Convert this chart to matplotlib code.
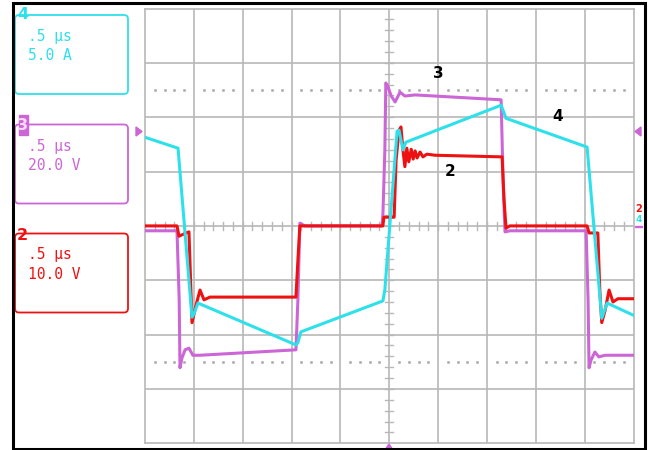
import matplotlib.pyplot as plt
from matplotlib.patches import FancyBboxPatch, Rectangle, Polygon

# Kanäle: Zeit und Pegel in Bildschirm-Teilungen (10 x 8 div)
ch2_x = [0.00, 0.655, 0.696, 0.839, 0.90, 0.962, 1.044, 1.126, 1.208, 1.33, 3.09, 3.13, 3.17,
         4.87, 4.89, 5.10, 5.14, 5.20, 5.24, 5.28, 5.32, 5.36, 5.40, 5.45, 5.49, 5.53, 5.57,
         5.63, 5.69, 5.77, 5.94, 7.31, 7.35, 7.39, 7.47, 9.05, 9.09, 9.27, 9.31, 9.35, 9.42,
         9.50, 9.58, 9.68, 9.99]
ch2_y = [0.0, 0.0, -0.19, -0.13, -0.11, -1.78, -1.46, -1.18, -1.36, -1.31, -1.31, -0.63, 0.0,
         0.0, 0.16, 0.16, 1.21, 1.76, 1.82, 1.40, 1.09, 1.43, 1.18, 1.41, 1.23, 1.38, 1.25,
         1.36, 1.27, 1.32, 1.30, 1.27, 0.48, -0.04, 0.0, 0.0, -0.13, -0.13, -1.18, -1.78, -1.55,
         -1.18, -1.40, -1.34, -1.34]

ch3_x = [0.00, 0.655, 0.70, 0.716, 0.757, 0.82, 0.90, 0.98, 1.126, 3.09, 3.13, 3.17, 3.27,
         4.85, 4.87, 4.91, 4.93, 4.97, 5.04, 5.12, 5.22, 5.32, 5.53, 7.29, 7.33, 7.37, 7.47,
         9.03, 9.07, 9.09, 9.13, 9.21, 9.29, 9.42, 9.99]
ch3_y = [-0.09, -0.09, -1.36, -2.61, -2.43, -2.28, -2.25, -2.38, -2.38, -2.28, -1.36, 0.05, 0.0,
         0.0, 0.20, 1.40, 2.63, 2.57, 2.39, 2.28, 2.46, 2.39, 2.41, 2.32, 0.84, -0.11, -0.09,
         -0.09, -1.36, -2.61, -2.47, -2.32, -2.41, -2.38, -2.38]

ch4_x = [0.00, 0.676, 0.962, 1.00, 1.085, 3.09, 3.13, 3.19, 4.87, 4.91, 5.16, 5.20, 5.28,
         5.34, 7.29, 7.39, 9.05, 9.35, 9.46, 9.99]
ch4_y = [1.63, 1.43, -1.68, -1.62, -1.42, -2.19, -2.15, -1.95, -1.38, -1.18, 1.74, 1.76, 1.40,
         1.54, 2.22, 1.98, 1.45, -1.70, -1.42, -1.64]

kanal_nr = ['4', '3', '2']
kanal_zeit = ['.5 μs', '.5 μs', '.5 μs']
kanal_skala = ['5.0 A', '20.0 V', '10.0 V']

# Beschriftungen im Bild
marken = ['3', '4', '2']
marken_x = [6.0, 8.45, 6.25]
marken_y = [2.8, 2.02, 1.0]

cyan = '#2ee0ea'
lila = '#cc66d6'
rot = '#ee1111'
gitter = '#b8b8b8'

fig = plt.figure(figsize=(6.48, 4.5), dpi=100)
ax = fig.add_axes([145 / 648, 1 - 443.3 / 450, (633.5 - 145) / 648, (443.3 - 8.5) / 450])
ax.set_xlim(0, 10)
ax.set_ylim(-4, 4)
ax.set_xticks([])
ax.set_yticks([])
for s in ax.spines.values():
    s.set_color(gitter)
    s.set_linewidth(1.2)

# Raster
for i in range(1, 10):
    ax.axvline(i, color=gitter, lw=1.2, zorder=1)
for j in range(-3, 4):
    ax.axhline(j, color=gitter, lw=1.2, zorder=1)

# Feinteilung auf den Mittelachsen
for k in range(50):
    t = k * 0.2
    ax.plot([t, t], [-0.07, 0.07], color=gitter, lw=1, zorder=1)
for k in range(40):
    t = -4 + k * 0.2
    ax.plot([4.92, 5.08], [t, t], color=gitter, lw=1, zorder=1)

# gepunktete Linien bei +-2.5 div
punkte = [k * 0.2 for k in range(1, 50) if k % 5 != 0]
ax.plot(punkte, [2.5] * len(punkte), ls='none', marker='s', ms=1, color='#b0b0b0', zorder=1)
ax.plot(punkte, [-2.5] * len(punkte), ls='none', marker='s', ms=1, color='#b0b0b0', zorder=1)

ax.plot(ch3_x, ch3_y, color=lila, lw=2.2, zorder=3)
ax.plot(ch2_x, ch2_y, color=rot, lw=2.2, zorder=4)
ax.plot(ch4_x, ch4_y, color=cyan, lw=2.2, zorder=5)

for m, mx, my in zip(marken, marken_x, marken_y):
    ax.text(mx, my, m, fontsize=11, fontweight='bold', color='black',
            ha='center', va='center', zorder=6)

# Seitenleiste mit Kanal-Einstellungen (in Pixeln umgerechnet)
tr = fig.dpi_scale_trans
def px(x, y):
    return x / 100, (450 - y) / 100

farben = [cyan, lila, rot]
box_oben = [15, 124.5, 233.5]
for i in range(3):
    x0, y0 = px(15, box_oben[i] + 79)
    fig.patches.append(FancyBboxPatch((x0, y0), 1.13, 0.79,
                                      boxstyle='round,pad=0,rounding_size=0.04',
                                      transform=tr, fill=False, ec=farben[i], lw=1.3))
    tx, ty = px(28.5, box_oben[i] + 26)
    fig.text(tx, ty, kanal_zeit[i], transform=tr, fontsize=10.5,
             family='DejaVu Sans Mono', color=farben[i], va='baseline')
    tx, ty = px(28.5, box_oben[i] + 45.5)
    fig.text(tx, ty, kanal_skala[i], transform=tr, fontsize=10.5,
             family='DejaVu Sans Mono', color=farben[i], va='baseline')

# Kanalnummern
x0, y0 = px(18.5, 135)
fig.patches.append(Rectangle((x0, y0), 0.09, 0.20, transform=tr, color=lila))
for i, yy in zip(range(3), [14.5, 125, 236]):
    tx, ty = px(22.5, yy)
    fig.text(tx, ty, kanal_nr[i], transform=tr, fontsize=11.5, fontweight='bold',
             color='#f4d8f4' if i == 1 else farben[i], ha='center', va='center')

# Markierungen am Rand
fig.patches.append(Polygon([px(136, 127), px(136, 136), px(142, 131.5)], transform=tr, color=lila))
fig.patches.append(Polygon([px(641, 127), px(641, 136), px(635, 131.5)], transform=tr, color=lila))
fig.patches.append(Rectangle(px(635, 227), 0.07, 0.015, transform=tr, color=lila))
fig.patches.append(Polygon([px(385, 450), px(393, 450), px(389, 444)], transform=tr, color=lila))
tx, ty = px(639, 209)
fig.text(tx, ty, '2', transform=tr, fontsize=7, fontweight='bold', color=rot, ha='center', va='center')
tx, ty = px(639, 219)
fig.text(tx, ty, '4', transform=tr, fontsize=6.5, fontweight='bold', color=cyan,
         ha='center', va='center')

# schwarzer Rahmen
x0, y0 = px(12.5, 448.5)
fig.patches.append(Rectangle((x0, y0), (645 - 12.5) / 100, (448.5 - 2.5) / 100,
                             transform=tr, fill=False, ec='black', lw=2.2))

fig.savefig('out.png', dpi=100)
